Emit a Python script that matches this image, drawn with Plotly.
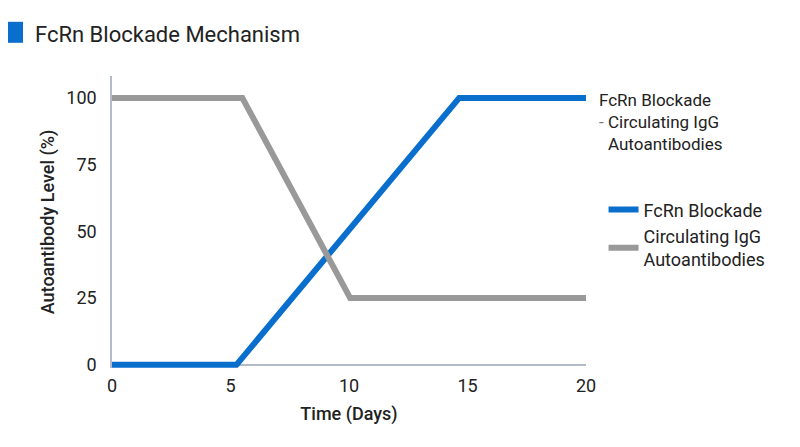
import plotly.graph_objects as go

# dados
series_names = ["FcRn Blockade", "Circulating IgG<br>Autoantibodies"]
fcrn_days = [0, 5.25, 14.65, 20]
fcrn_level = [0, 0, 100, 100]
igg_days = [0, 5.5, 10.05, 20]
igg_level = [100, 100, 25, 25]

x_ticks = [0, 5, 10, 15, 20]
y_ticks = [0, 25, 50, 75, 100]

azul = "#0A6FCC"
cinza = "#999999"
eixo = "#B3BACA"
texto = "#222222"

fig = go.Figure()

fig.add_trace(go.Scatter(
    x=fcrn_days, y=fcrn_level, mode="lines", name=series_names[0],
    line=dict(color=azul, width=6)
))
fig.add_trace(go.Scatter(
    x=igg_days, y=igg_level, mode="lines", name=series_names[1],
    line=dict(color=cinza, width=6)
))

# rótulos no fim das linhas
fig.add_annotation(
    x=fcrn_days[-1], y=fcrn_level[-1], xref="x", yref="y",
    text=series_names[0], showarrow=False, xanchor="left", yanchor="middle",
    xshift=11, yshift=-2, font=dict(size=17, color=texto)
)
fig.add_annotation(
    x=fcrn_days[-1], y=fcrn_level[-1], xref="x", yref="y",
    text="-", showarrow=False, xanchor="left", yanchor="middle",
    xshift=11, yshift=-24, font=dict(size=17, color="#777777")
)
fig.add_annotation(
    x=fcrn_days[-1], y=fcrn_level[-1], xref="x", yref="y",
    text=series_names[1], showarrow=False, xanchor="left", yanchor="top",
    align="left", xshift=20, yshift=-12, font=dict(size=17, color=texto)
)

# quadrado azul do título
fig.add_shape(
    type="rect", xref="paper", yref="paper",
    x0=-0.2363, x1=-0.1878, y0=1.1137, y1=1.1856,
    fillcolor=azul, line=dict(width=0)
)

fig.update_layout(
    width=792, height=439,
    margin=dict(l=104, r=214, t=68, b=79),
    title=dict(
        text="FcRn Blockade Mechanism", x=27 / 792, xanchor="left",
        xref="container", y=1 - 26 / 439, yanchor="middle", yref="container",
        font=dict(family="Roboto", size=22, color=texto)
    ),
    font=dict(family="Roboto", size=18, color=texto),
    plot_bgcolor="white", paper_bgcolor="white",
    legend=dict(
        x=1.037, xanchor="left", y=0.605, yanchor="top",
        font=dict(size=18, color=texto), bgcolor="rgba(0,0,0,0)",
        tracegroupgap=2
    ),
    xaxis=dict(
        range=[0, 20], tickmode="array", tickvals=x_ticks,
        showgrid=False, showline=False, zeroline=False,
        ticks="", ticklabelstandoff=5,
        title=dict(text="Time (Days)", font=dict(size=18, weight=500), standoff=12)
    ),
    yaxis=dict(
        range=[-1.2, 108.2], tickmode="array", tickvals=y_ticks,
        showgrid=False, showline=True, linecolor=eixo, linewidth=1.5,
        zeroline=True, zerolinecolor=eixo, zerolinewidth=1.5,
        ticks="", ticklabelstandoff=10,
        title=dict(text="Autoantibody Level (%)", font=dict(size=18, weight=500), standoff=7)
    )
)

fig.write_html("out.html")
